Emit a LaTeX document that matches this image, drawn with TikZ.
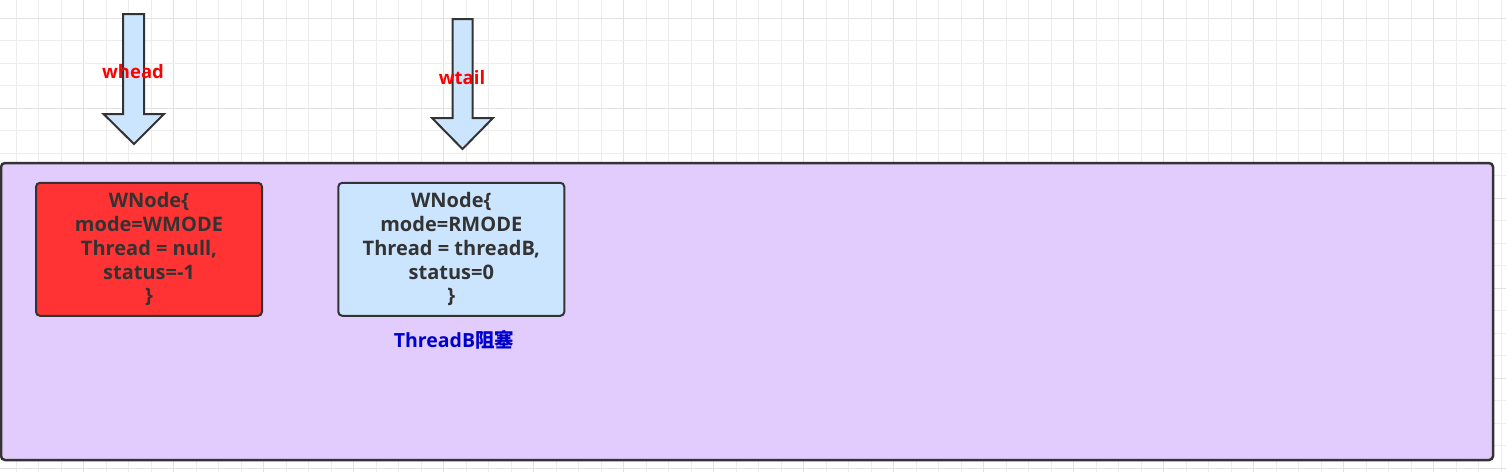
\documentclass[tikz,border=0pt]{standalone}
\usepackage{fontspec}
\setmainfont{Open Sans}
\newfontfamily\cjk{Noto Sans CJK SC}
\definecolor{gridminor}{HTML}{EDEDED}
\definecolor{gridmajor}{HTML}{E2E2E2}
\definecolor{purplebg}{HTML}{E2CCFD}
\definecolor{redfill}{HTML}{FF3333}
\definecolor{bluefill}{HTML}{CCE5FF}
\definecolor{border}{HTML}{333333}
\definecolor{txt}{HTML}{333333}
\definecolor{bluetxt}{HTML}{0000CC}
\definecolor{redtxt}{HTML}{FF0000}
\tikzset{
  nodebox/.style={draw=border, line width=2pt, rounded corners=4pt, minimum width=226pt, minimum height=133pt, inner sep=0pt, align=center, text=txt, font=\fontsize{20}{23.75}\selectfont\bfseries},
  blockarrow/.style={draw=border, fill=bluefill, line width=2pt, line join=miter},
  ptrlabel/.style={text=redtxt, font=\fontsize{18.5}{20}\selectfont\bfseries, inner sep=0pt},
}
\begin{document}
\begin{tikzpicture}[x=1pt,y=-1pt]
\useasboundingbox (0,0) rectangle (1506,472);
\fill[white] (0,0) rectangle (1506,472);
% grid
\foreach \k in {0,...,66} {
  \pgfmathsetmacro{\gx}{16+22.5*\k}
  \pgfmathtruncatemacro{\m}{mod(\k,4)}
  \ifnum\m=3
    \draw[gridmajor, line width=1pt] (\gx,0) -- (\gx,472);
  \else
    \draw[gridminor, line width=1pt] (\gx,0) -- (\gx,472);
  \fi
}
\foreach \k in {0,...,20} {
  \pgfmathsetmacro{\gy}{18.3+22.5*\k}
  \pgfmathtruncatemacro{\m}{mod(\k,4)}
  \ifnum\m=0
    \draw[gridmajor, line width=1pt] (0,\gy) -- (1506,\gy);
  \else
    \draw[gridminor, line width=1pt] (0,\gy) -- (1506,\gy);
  \fi
}
% container
\node[draw=border, fill=purplebg, line width=2.5pt, rounded corners=4pt, minimum width=1492pt, minimum height=297pt, inner sep=0pt] (queue) at (747,311.5) {};
% nodes
\node[nodebox, fill=redfill] (nodeA) at (149,249.3) {WNode\{\\mode=WMODE\\Thread = null,\\status=-1\\\}};
\node[nodebox, fill=bluefill] (nodeB) at (451.3,249.3) {WNode\{\\mode=RMODE\\Thread = threadB,\\status=0\\\}};
\node[text=bluetxt, font=\fontsize{19.5}{20}\selectfont\bfseries, inner sep=0pt] (blocked) at (454,340) {ThreadB{\cjk\bfseries 阻塞}};
% pointer arrows
\draw[blockarrow] (123,14) -- (144,14) -- (144,114) -- (164,114) -- (134,144) -- (103.6,114) -- (123,114) -- cycle;
\draw[blockarrow] (452.5,19) -- (472.5,19) -- (472.5,118) -- (493,118) -- (462.5,149) -- (432,118) -- (452.5,118) -- cycle;
\node[ptrlabel] (whead) at (133,72) {whead};
\node[ptrlabel] (wtail) at (462,78) {wtail};
\end{tikzpicture}
\end{document}
